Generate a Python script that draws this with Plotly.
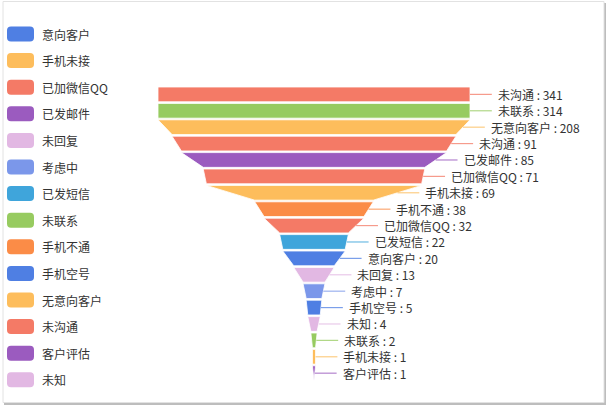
import plotly.graph_objects as go

# funnel items, top to bottom
names = ['未沟通', '未联系', '无意向客户', '未沟通', '已发邮件', '已加微信QQ', '手机未接',
         '手机不通', '已加微信QQ', '已发短信', '意向客户', '未回复', '考虑中', '手机空号',
         '未知', '未联系', '手机未接', '客户评估']
values = [341, 314, 208, 91, 85, 71, 69, 38, 32, 22, 20, 13, 7, 5, 4, 2, 1, 1]

# legend entries in their original order
legend_names = ['意向客户', '手机未接', '已加微信QQ', '已发邮件', '未回复', '考虑中', '已发短信',
                '未联系', '手机不通', '手机空号', '无意向客户', '未沟通', '客户评估', '未知']

palette = ['#4f7fe3', '#fdbd5c', '#f47a66', '#9b5bbf', '#e2b8e3',
           '#7b97ea', '#3fa5db', '#97cb60', '#fb8c47']

W, H = 608, 408
FONT = 'Noto Sans CJK SC'
max_value = 100          # values above this take the full width
px_per_unit = 3.12       # funnel width 312px for max_value
center_px = 314
row_px = 16.4
top_px = 87
seg_h = 0.9

colors = {n: palette[i % len(palette)] for i, n in enumerate(legend_names)}


def half(v):
    return min(v, max_value) / 2.0


fig = go.Figure()
annotations = []

for i, (n, v) in enumerate(zip(names, values)):
    w0 = half(v)
    w1 = half(values[i + 1]) if i + 1 < len(values) else 0
    y0, y1 = i, i + seg_h
    c = colors[n]
    fig.add_trace(go.Scatter(
        x=[-w0, w0, w1, -w1, -w0], y=[y0, y0, y1, y1, y0],
        fill='toself', fillcolor=c, mode='lines',
        line=dict(color='white', width=0.8),
        name=n, showlegend=False, hoveron='fills',
    ))
    edge = (w0 + w1) / 2
    ym = i + seg_h / 2
    fig.add_trace(go.Scatter(
        x=[edge, edge + 7], y=[ym, ym], mode='lines',
        line=dict(color=c, width=1.2), opacity=0.75,
        showlegend=False, hoverinfo='skip',
    ))
    annotations.append(dict(
        x=edge + 7, y=ym, xref='x', yref='y', text=f'{n} : {v}',
        showarrow=False, xanchor='left', yanchor='middle', xshift=4,
        font=dict(family=FONT, size=12, color='#333333'),
    ))

shapes = [
    # frame with soft shadow
    dict(type='rect', xref='paper', yref='paper', layer='below',
         x0=4 / W, x1=606 / W, y0=1 - 405 / H, y1=1 - 3 / H,
         line=dict(width=0), fillcolor='#bdbdbd'),
    dict(type='rect', xref='paper', yref='paper', layer='below',
         x0=3 / W, x1=604 / W, y0=1 - 402.5 / H, y1=1 - 1.5 / H,
         line=dict(color='#e2e2e2', width=1), fillcolor='white'),
]

# legend
r = 4
sw, sh = 13.5, 7.5
swatch = (f'M{-sw + r},{-sh} L{sw - r},{-sh} Q{sw},{-sh} {sw},{-sh + r} '
          f'L{sw},{sh - r} Q{sw},{sh} {sw - r},{sh} L{-sw + r},{sh} '
          f'Q{-sw},{sh} {-sw},{sh - r} L{-sw},{-sh + r} Q{-sw},{-sh} {-sw + r},{-sh} Z')
for j, n in enumerate(legend_names):
    yp = 34 + 26.6 * j
    shapes.append(dict(
        type='path', xref='paper', yref='paper', xsizemode='pixel', ysizemode='pixel',
        xanchor=20.5 / W, yanchor=1 - yp / H, path=swatch,
        fillcolor=colors[n], line=dict(width=0), layer='above',
    ))
    annotations.append(dict(
        x=40 / W, y=1 - yp / H, xref='paper', yref='paper', text=n,
        showarrow=False, xanchor='left', yanchor='middle',
        font=dict(family=FONT, size=12, color='#333333'),
    ))

fig.update_layout(
    width=W, height=H,
    margin=dict(l=0, r=0, t=0, b=0),
    paper_bgcolor='white', plot_bgcolor='rgba(0,0,0,0)',
    showlegend=False,
    xaxis=dict(range=[-center_px / px_per_unit, (W - center_px) / px_per_unit],
               visible=False, fixedrange=True),
    yaxis=dict(range=[(H - top_px) / row_px, -top_px / row_px],
               visible=False, fixedrange=True),
    shapes=shapes,
    annotations=annotations,
    font=dict(family=FONT),
)

fig.write_html('out.html', config={'displayModeBar': False},
               post_script="document.body.style.margin='0';")
